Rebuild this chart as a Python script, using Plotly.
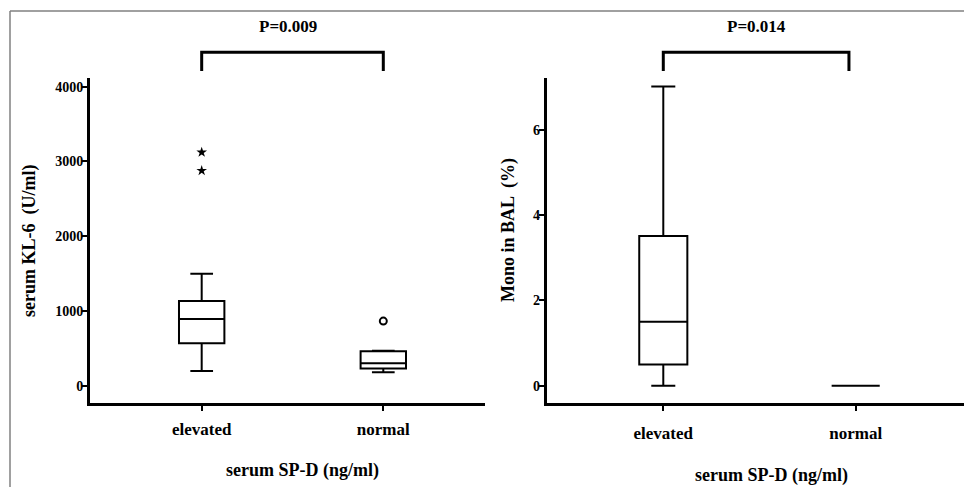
import plotly.graph_objects as go

# ---- data ----
categories = ["elevated", "normal"]

kl6_q1 = [567, 232]
kl6_median = [892, 300]
kl6_q3 = [1133, 460]
kl6_lower = [197, 179]
kl6_upper = [1498, 468]
kl6_star_outliers = [3122, 2876]   # elevated group (extreme)
kl6_circle_outliers = [865]        # normal group

mono_q1 = [0.5, 0]
mono_median = [1.5, 0]
mono_q3 = [3.51, 0]
mono_lower = [0, 0]
mono_upper = [7.02, 0]

kl6_ticks = [0, 1000, 2000, 3000, 4000]
mono_ticks = [0, 2, 4, 6]
p_labels = ["P=0.009", "P=0.014"]

pos = list(range(len(categories)))
W, H = 964, 487
FONT = "Liberation Serif"

fig = go.Figure()

box_style = dict(width=0.25, whiskerwidth=0.5, line=dict(color="black", width=2),
                 fillcolor="white", boxpoints=False, showlegend=False, hoverinfo="skip")

fig.add_trace(go.Box(x=pos, q1=kl6_q1, median=kl6_median, q3=kl6_q3,
                     lowerfence=kl6_lower, upperfence=kl6_upper,
                     xaxis="x", yaxis="y", **box_style))
fig.add_trace(go.Scatter(x=[pos[0]] * len(kl6_star_outliers), y=kl6_star_outliers,
                         mode="markers", marker=dict(symbol="star", size=8, color="black"),
                         xaxis="x", yaxis="y", showlegend=False))
fig.add_trace(go.Scatter(x=[pos[1]] * len(kl6_circle_outliers), y=kl6_circle_outliers,
                         mode="markers",
                         marker=dict(symbol="circle-open", size=7, color="black", line=dict(width=2)),
                         xaxis="x", yaxis="y", showlegend=False))

fig.add_trace(go.Box(x=pos, q1=mono_q1, median=mono_median, q3=mono_q3,
                     lowerfence=mono_lower, upperfence=mono_upper,
                     xaxis="x2", yaxis="y2", **box_style))

ydom = [1 - 403 / H, 1 - 78 / H]
common_x = dict(showgrid=False, zeroline=False, showline=True, linecolor="black", linewidth=3,
                ticks="outside", ticklen=5, tickwidth=1.5, tickcolor="black",
                tickvals=pos, ticktext=categories,
                tickfont=dict(family=FONT, size=17, color="black", weight="bold"))
common_y = dict(showgrid=False, zeroline=False, showline=True, linecolor="black", linewidth=3,
                ticks="outside", ticklen=5, tickwidth=2, tickcolor="black",
                tickfont=dict(family=FONT, size=14, color="black", weight="bold"))

fig.update_layout(
    width=W, height=H, margin=dict(l=0, r=0, t=0, b=0),
    paper_bgcolor="white", plot_bgcolor="white", showlegend=False,
    xaxis=dict(domain=[90 / W, 485 / W], range=[-0.615, 1.56], anchor="y",
               ticklabelstandoff=4, **common_x),
    yaxis=dict(domain=ydom, range=[-231, 4116], anchor="x", tickvals=kl6_ticks,
               ticklabelstandoff=-4, **common_y),
    xaxis2=dict(domain=[546.7 / W, 1.0], range=[-0.606, 1.563], anchor="y2",
                ticklabelstandoff=8, **common_x),
    yaxis2=dict(domain=ydom, range=[-0.406, 7.22], anchor="x2", tickvals=mono_ticks,
                ticklabelstandoff=-4, **common_y),
)

title_font = dict(family=FONT, size=18, color="black", weight="bold")
p_font = dict(family=FONT, size=17, color="black", weight="bold")
ann = [
    dict(text="serum KL-6  (U/ml)", x=30 / W, y=1 - 241 / H, textangle=-90, font=title_font),
    dict(text="Mono in BAL  (%)", x=508 / W, y=1 - 230 / H, textangle=-90, font=title_font),
    dict(text="serum SP-D (ng/ml)", x=302 / W, y=1 - 470 / H, font=title_font),
    dict(text="serum SP-D (ng/ml)", x=771.7 / W, y=1 - 475 / H, font=title_font),
    dict(text=p_labels[0], x=288 / W, y=1 - 26.7 / H, font=p_font),
    dict(text=p_labels[1], x=756.7 / W, y=1 - 26.7 / H, font=p_font),
]
for a in ann:
    fig.add_annotation(xref="paper", yref="paper", showarrow=False, xanchor="center",
                       yanchor="middle", **a)

yb_top = 1 - 52.3 / H
yb_bot = 1 - 71 / H
for xr, (xa, xb) in [("x", (pos[0], pos[1])), ("x2", (pos[0], 0.965))]:
    fig.add_shape(type="path", xref=xr, yref="paper",
                  path=f"M {xa},{yb_bot} L {xa},{yb_top} L {xb},{yb_top} L {xb},{yb_bot}",
                  line=dict(color="black", width=3))

# frame lines (top and left)
fig.add_shape(type="line", xref="paper", yref="paper", x0=10 / W, x1=1, y0=1 - 11 / H, y1=1 - 11 / H,
              line=dict(color="#808080", width=1.5))
fig.add_shape(type="line", xref="paper", yref="paper", x0=10 / W, x1=10 / W, y0=0, y1=1 - 11 / H,
              line=dict(color="#808080", width=1.5))

fig.write_html(
    "out.html",
    config={"displayModeBar": False},
    post_script="document.documentElement.style.margin='0';document.body.style.margin='0';"
                "document.body.style.overflow='hidden';",
)
